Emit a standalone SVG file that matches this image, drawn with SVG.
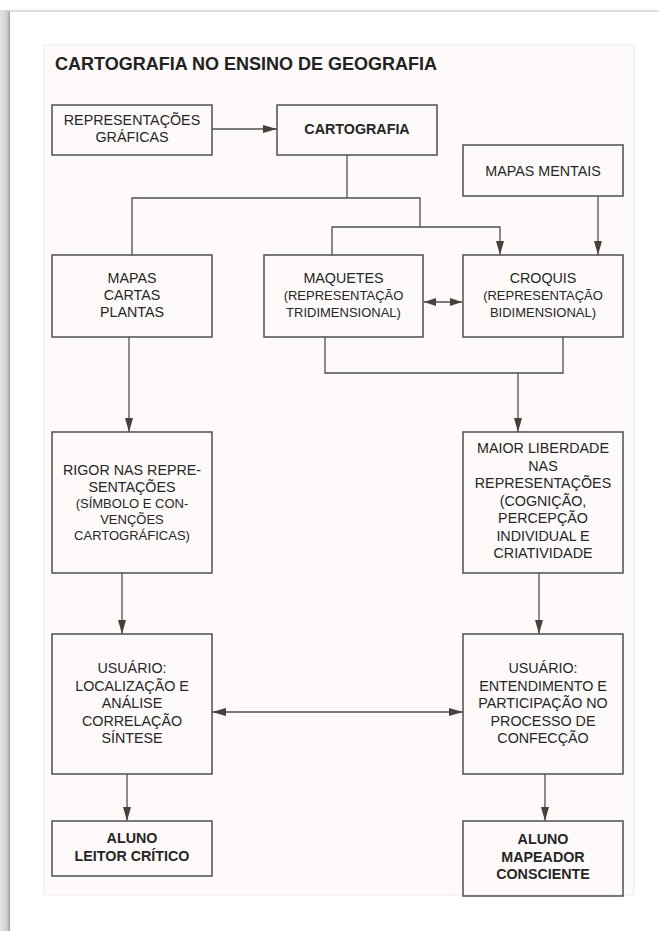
<svg xmlns="http://www.w3.org/2000/svg" width="659" height="931" viewBox="0 0 659 931">
  <defs>
    <marker id="arrow" viewBox="0 0 14 8" refX="14" refY="4" markerWidth="14" markerHeight="8" markerUnits="userSpaceOnUse" orient="auto-start-reverse">
      <path d="M0,0 L14,4 L0,8 Z" fill="#4a3f3b"/>
    </marker>
    <marker id="arrowSmall" viewBox="0 0 12 8" refX="12" refY="4" markerWidth="12" markerHeight="8" markerUnits="userSpaceOnUse" orient="auto-start-reverse">
      <path d="M0,0 L12,4 L0,8 Z" fill="#4a3f3b"/>
    </marker>
    <linearGradient id="edge" x1="0" y1="0" x2="1" y2="0">
      <stop offset="0" stop-color="#e4e4e4"/>
      <stop offset="0.7" stop-color="#cfcfcf"/>
      <stop offset="1" stop-color="#9a9a9a"/>
    </linearGradient>
  </defs>
  <style>
    .box { fill: none; stroke: #4f4f4f; stroke-width: 1.5; }
    .t { font-family: "Liberation Sans", Arial, sans-serif; font-size: 14.3px; fill: #262626; text-anchor: middle; }
    .s { font-size: 13px; }
    .b { font-weight: bold; }
    .title { font-family: "Liberation Sans", Arial, sans-serif; font-size: 18px; font-weight: bold; fill: #222222; }
    .c { fill: none; stroke: #4f4f4f; stroke-width: 1.3; }
  </style>

  <!-- page -->
  <rect x="0" y="0" width="659" height="931" fill="#ffffff"/>
  <rect x="0" y="10" width="10" height="921" fill="url(#edge)"/>
  <line x1="8" y1="11" x2="659" y2="11" stroke="#d4d4d4" stroke-width="1.5"/>
  <rect x="44" y="45" width="590" height="850" fill="#fefafa" stroke="#f0eaea" stroke-width="1"/>

  <text class="title" x="55" y="70">CARTOGRAFIA NO ENSINO DE GEOGRAFIA</text>

  <!-- connectors -->
  <g id="connectors">
    <line class="c" x1="212" y1="129" x2="277" y2="129" marker-end="url(#arrow)"/>
    <polyline class="c" points="347,155 347,198"/>
    <polyline class="c" points="132,255 132,198 420,198 420,227"/>
    <polyline class="c" points="332,255 332,227 500,227 500,255" marker-end="url(#arrow)"/>
    <line class="c" x1="598" y1="196" x2="598" y2="255" marker-end="url(#arrow)"/>
    <line class="c" x1="424" y1="302" x2="462" y2="302" marker-start="url(#arrowSmall)" marker-end="url(#arrowSmall)"/>
    <polyline class="c" points="325,337 325,373 563,373 563,337"/>
    <line class="c" x1="518" y1="373" x2="518" y2="432" marker-end="url(#arrow)"/>
    <line class="c" x1="129" y1="337" x2="129" y2="432" marker-end="url(#arrow)"/>
    <line class="c" x1="122" y1="573" x2="122" y2="634" marker-end="url(#arrow)"/>
    <line class="c" x1="539" y1="573" x2="539" y2="634" marker-end="url(#arrow)"/>
    <line class="c" x1="212" y1="712" x2="463" y2="712" marker-start="url(#arrow)" marker-end="url(#arrow)"/>
    <line class="c" x1="127" y1="774" x2="127" y2="821" marker-end="url(#arrow)"/>
    <line class="c" x1="545" y1="774" x2="545" y2="821" marker-end="url(#arrow)"/>
  </g>

  <!-- nodes -->
  <g id="representacoes">
    <rect class="box" x="52" y="105" width="160" height="50"/>
    <text class="t" x="132" y="125">REPRESENTAÇÕES</text>
    <text class="t" x="132" y="142">GRÁFICAS</text>
  </g>
  <g id="cartografia">
    <rect class="box" x="277" y="105" width="160" height="50"/>
    <text class="t b" x="357" y="134">CARTOGRAFIA</text>
  </g>
  <g id="mapas-mentais">
    <rect class="box" x="463" y="145" width="160" height="51"/>
    <text class="t" x="543" y="176">MAPAS MENTAIS</text>
  </g>
  <g id="mapas">
    <rect class="box" x="52" y="255" width="160" height="82"/>
    <text class="t" x="132" y="283">MAPAS</text>
    <text class="t" x="132" y="300">CARTAS</text>
    <text class="t" x="132" y="317">PLANTAS</text>
  </g>
  <g id="maquetes">
    <rect class="box" x="264" y="255" width="159" height="82"/>
    <text class="t" x="343.5" y="283">MAQUETES</text>
    <text class="t s" x="343.5" y="300">(REPRESENTAÇÃO</text>
    <text class="t s" x="343.5" y="317">TRIDIMENSIONAL)</text>
  </g>
  <g id="croquis">
    <rect class="box" x="463" y="255" width="160" height="82"/>
    <text class="t" x="543" y="283">CROQUIS</text>
    <text class="t s" x="543" y="300">(REPRESENTAÇÃO</text>
    <text class="t s" x="543" y="317">BIDIMENSIONAL)</text>
  </g>
  <g id="rigor">
    <rect class="box" x="52" y="432" width="160" height="141"/>
    <text class="t" x="132" y="475">RIGOR NAS REPRE-</text>
    <text class="t" x="132" y="492">SENTAÇÕES</text>
    <text class="t s" x="132" y="508">(SÍMBOLO E CON-</text>
    <text class="t s" x="132" y="524">VENÇÕES</text>
    <text class="t s" x="132" y="540">CARTOGRÁFICAS)</text>
  </g>
  <g id="liberdade">
    <rect class="box" x="463" y="432" width="160" height="141"/>
    <text class="t" x="543" y="453">MAIOR LIBERDADE</text>
    <text class="t" x="543" y="471">NAS</text>
    <text class="t" x="543" y="488">REPRESENTAÇÕES</text>
    <text class="t" x="543" y="506">(COGNIÇÃO,</text>
    <text class="t" x="543" y="523">PERCEPÇÃO</text>
    <text class="t" x="543" y="541">INDIVIDUAL E</text>
    <text class="t" x="543" y="558">CRIATIVIDADE</text>
  </g>
  <g id="usuario-leitor">
    <rect class="box" x="52" y="634" width="160" height="140"/>
    <text class="t" x="132" y="673">USUÁRIO:</text>
    <text class="t" x="132" y="691">LOCALIZAÇÃO E</text>
    <text class="t" x="132" y="708">ANÁLISE</text>
    <text class="t" x="132" y="726">CORRELAÇÃO</text>
    <text class="t" x="132" y="743">SÍNTESE</text>
  </g>
  <g id="usuario-mapeador">
    <rect class="box" x="463" y="634" width="160" height="140"/>
    <text class="t" x="543" y="673">USUÁRIO:</text>
    <text class="t" x="543" y="691">ENTENDIMENTO E</text>
    <text class="t" x="543" y="708">PARTICIPAÇÃO NO</text>
    <text class="t" x="543" y="726">PROCESSO DE</text>
    <text class="t" x="543" y="743">CONFECÇÃO</text>
  </g>
  <g id="aluno-leitor">
    <rect class="box" x="52" y="821" width="160" height="55"/>
    <text class="t b" x="132" y="843">ALUNO</text>
    <text class="t b" x="132" y="861">LEITOR CRÍTICO</text>
  </g>
  <g id="aluno-mapeador">
    <rect class="box" x="463" y="821" width="160" height="75"/>
    <text class="t b" x="543" y="844">ALUNO</text>
    <text class="t b" x="543" y="862">MAPEADOR</text>
    <text class="t b" x="543" y="879">CONSCIENTE</text>
  </g>
</svg>
